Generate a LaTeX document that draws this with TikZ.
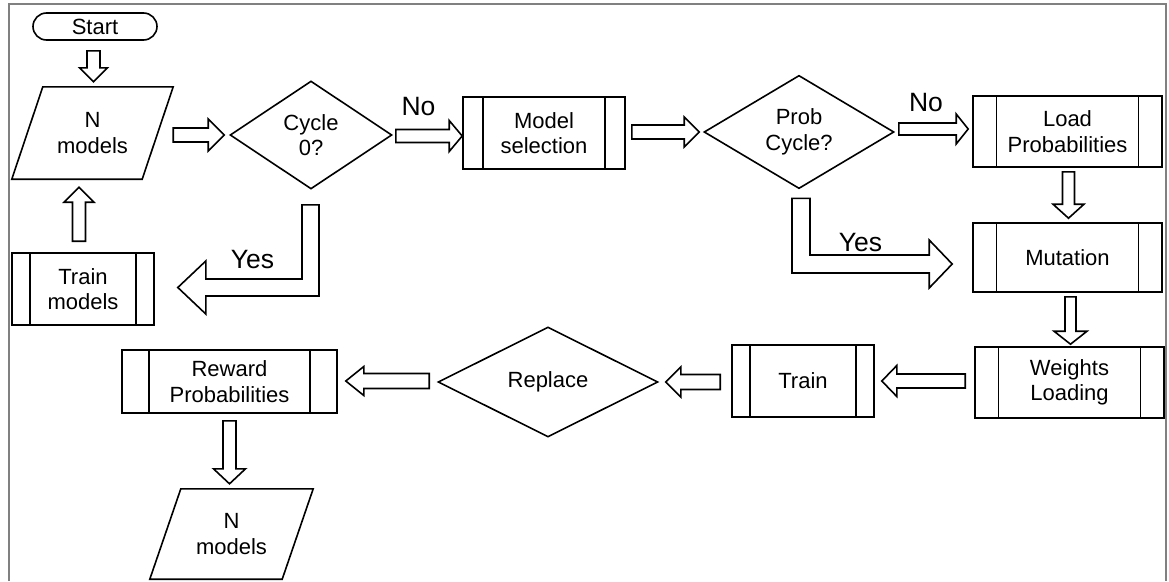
\documentclass[tikz,border=0pt]{standalone}
\usepackage{fontspec}
\setmainfont{Liberation Sans}
\usetikzlibrary{calc,shapes.geometric,shapes.misc}

\newcommand\flowtext{\fontsize{22pt}{25.5pt}\selectfont}
\newcommand\branchtext{\fontsize{26.5pt}{30pt}\selectfont}

\tikzset{
  % hollow block arrow between two points
  ba shaft/.store in=\baShaft, ba head/.store in=\baHead, ba len/.store in=\baLen,
  ba shaft=6.5pt, ba head=15pt, ba len=14pt,
  blockarrow/.style={draw=black, line width=1.6pt, fill=white, line join=miter,
    to path={(\tikztostart) coordinate (bas) (\tikztotarget) coordinate (bat)
      ($(bat)!\baLen!(bas)$) coordinate (bah)
      ($(bas)!\baShaft!90:(bat)$) -- ($(bah)!\baShaft!90:(bat)$)
      -- ($(bah)!\baHead!90:(bat)$) -- (bat)
      -- ($(bah)!\baHead!-90:(bat)$) -- ($(bah)!\baShaft!-90:(bat)$)
      -- ($(bas)!\baShaft!-90:(bat)$) -- cycle}},
  bendarrow/.style={draw=black, line width=1.6pt, fill=white, line join=miter},
  shapeline/.style={draw=black, line width=1.6pt, inner sep=0pt, align=center, font=\flowtext},
  terminal/.style={shapeline, rounded rectangle},
  % slanted data box drawn around a plain rectangular node
  io slant/.store in=\ioSlant, io slant=15.5pt,
  iobox/.style={inner sep=0pt, align=center, font=\flowtext, rectangle,
    append after command={\pgfextra{
      \draw[line width=1.6pt, line join=miter]
        ($(\tikzlastnode.south west)+(-\ioSlant,0)$) -- ($(\tikzlastnode.north west)+(\ioSlant,0)$)
        -- ($(\tikzlastnode.north east)+(\ioSlant,0)$) -- ($(\tikzlastnode.south east)+(-\ioSlant,0)$)
        -- cycle;}}},
  decision/.style={shapeline, diamond},
  proc/.style={shapeline, rectangle,
    path picture={
      \draw[line width=1.6pt]
        ($(path picture bounding box.north west)!0.125!(path picture bounding box.north east)$)
        -- ($(path picture bounding box.south west)!0.125!(path picture bounding box.south east)$)
        ($(path picture bounding box.north east)!0.125!(path picture bounding box.north west)$)
        -- ($(path picture bounding box.south east)!0.125!(path picture bounding box.south west)$);}},
  branch/.style={inner sep=0pt, font=\branchtext},
  frameline/.style={draw=black!50, line width=2pt}
}

\begin{document}
\begin{tikzpicture}[x=1pt, y=-1pt]
\useasboundingbox (0,0) rectangle (1169,581);
\fill[white] (0,0) rectangle (1169,581);
\draw[frameline] (9,581) -- (9,4) -- (1166,4) -- (1166,581);

% ---- nodes ----
\node[terminal, minimum width=124pt, minimum height=27pt] (start) at (95,26.5) {Start};
\node[iobox, io slant=15.5pt, minimum width=130pt, minimum height=92pt] (nm1) at (92.5,133) {N\\models};
\node[decision, minimum width=162pt, minimum height=108pt] (cyc) at (311,135) {Cycle\\0?};
\node[proc, minimum width=162pt, minimum height=72pt] (msel) at (544,133) {Model\\selection};
\node[decision, minimum width=190pt, minimum height=108pt] (prob) at (799,132) {Prob\\Cycle?};
\node[proc, minimum width=189pt, minimum height=71pt] (load) at (1067.5,131.5) {Load\\Probabilities};
\node[proc, minimum width=189pt, minimum height=69pt] (mut) at (1067.5,257.5) {Mutation};
\node[proc, minimum width=189pt, minimum height=71pt] (wload) at (1069.5,382.5) {Weights\\Loading};
\node[proc, minimum width=142pt, minimum height=72pt] (trn) at (803,381) {Train};
\node[decision, minimum width=220pt, minimum height=110pt] (repl) at (548,382) {Replace};
\node[proc, minimum width=215pt, minimum height=63pt] (rew) at (229.5,381.5) {Reward\\Probabilities};
\node[iobox, io slant=16pt, minimum width=132pt, minimum height=90pt] (nm2) at (231.5,534) {N\\models};
\node[proc, minimum width=142pt, minimum height=72pt] (tmod) at (83,289) {Train\\models};

% ---- straight connectors ----
\draw[blockarrow, ba shaft=6.5pt, ba head=14pt, ba len=14pt]
  ($(start.south)+(-1.5,10)$) to ($(start.south |- nm1.north)+(-1.5,-5)$);
\draw[blockarrow, ba shaft=6.5pt, ba head=15pt, ba len=15pt]
  ($(tmod.north)+(-4,-11)$) to ($(tmod.north |- nm1.south)+(-4,8)$);
\draw[blockarrow, ba shaft=7pt, ba head=16pt, ba len=16pt]
  ($(nm1.east |- cyc.west)+(15.5,0)$) to ($(cyc.west)+(-5,0)$);
\draw[blockarrow, ba shaft=6.5pt, ba head=15.5pt, ba len=13pt]
  ($(cyc.east)+(3,1)$) to ($(msel.west |- cyc.east)+(0,1)$);
\draw[blockarrow, ba shaft=7pt, ba head=15pt, ba len=15pt]
  ($(msel.east)+(6,-1)$) to ($(prob.west)+(-4,0)$);
\draw[blockarrow, ba shaft=6pt, ba head=15pt, ba len=12pt]
  ($(prob.east)+(4,-3)$) to ($(load.west)+(-4,-2.5)$);
\draw[blockarrow, ba shaft=6pt, ba head=15.5pt, ba len=14pt]
  ($(load.south)+(1,4)$) to ($(mut.north)+(1,-4)$);
\draw[blockarrow, ba shaft=5.5pt, ba head=16.5pt, ba len=13pt]
  ($(mut.south)+(3,4)$) to ($(mut.south |- wload.north)+(3,-2)$);
\draw[blockarrow, ba shaft=7pt, ba head=15.5pt, ba len=15pt]
  ($(wload.west)+(-9,-1.5)$) to ($(trn.east)+(7,0)$);
\draw[blockarrow, ba shaft=7.5pt, ba head=15pt, ba len=15pt]
  ($(trn.west)+(-11,1)$) to ($(repl.east)+(7,0)$);
\draw[blockarrow, ba shaft=7.5pt, ba head=14.5pt, ba len=18pt]
  ($(repl.west)+(-8,-1)$) to ($(rew.east)+(8,-0.5)$);
\draw[blockarrow, ba shaft=6.5pt, ba head=16pt, ba len=15pt]
  ($(rew.south)+(0,7)$) to ($(rew.south |- nm2.north)+(0,-5)$);

% ---- bent connectors (Yes branches) ----
\coordinate (ya) at ($(cyc.south)+(-0.5,15)$);
\coordinate (yt) at ($(tmod.east)+(23,-1.5)$);
\draw[bendarrow] ($(ya)+(-8.5,0)$) -- ($(ya)+(8.5,0)$) -- ($(ya |- yt)+(8.5,8.5)$)
  -- ($(yt)+(28,8.5)$) -- ($(yt)+(28,26.5)$) -- (yt) -- ($(yt)+(28,-26.5)$)
  -- ($(yt)+(28,-8.5)$) -- ($(ya |- yt)+(-8.5,-8.5)$) -- cycle;

\coordinate (yb) at ($(prob.south)+(2,9)$);
\coordinate (ybt) at ($(mut.west)+(-20,6.5)$);
\draw[bendarrow] ($(yb)+(-9,0)$) -- ($(yb)+(9,0)$) -- ($(yb |- ybt)+(9,-9)$)
  -- ($(ybt)+(-23,-9)$) -- ($(ybt)+(-23,-24)$) -- (ybt) -- ($(ybt)+(-23,24)$)
  -- ($(ybt)+(-23,9)$) -- ($(yb |- ybt)+(-9,9)$) -- cycle;

% ---- branch labels ----
\node[branch] (no1) at (418.5,106.5) {No};
\node[branch] (no2) at (926,102.5) {No};
\node[branch] (yes1) at (252.5,260) {Yes};
\node[branch] (yes2) at (860.5,243) {Yes};
\end{tikzpicture}
\end{document}
